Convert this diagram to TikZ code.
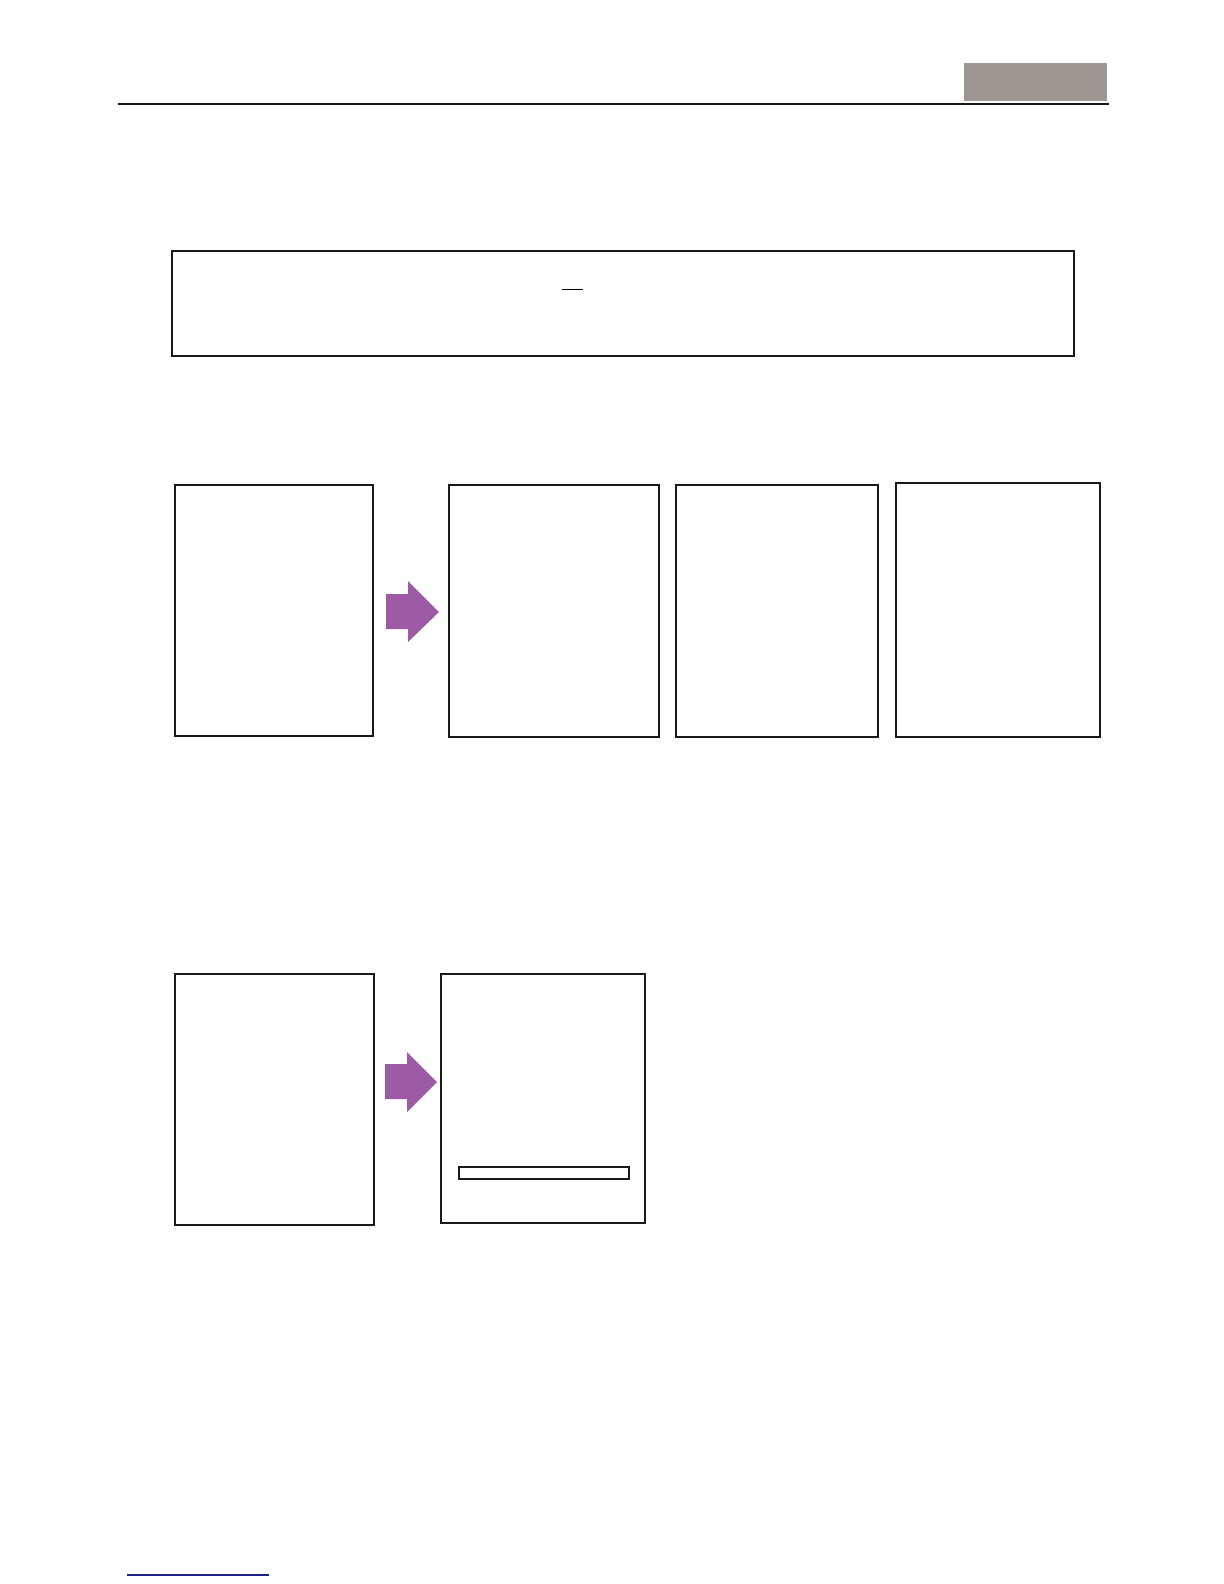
\documentclass[tikz,border=0pt]{standalone}
\definecolor{hdrgrey}{RGB}{158,151,147}
\definecolor{arrowpurple}{RGB}{157,91,166}
\definecolor{linkblue}{RGB}{30,30,140}
\tikzset{
  panel/.style={draw=black!90, line width=1pt, fill=white},
  thinpanel/.style={draw=black!90, line width=0.75pt, fill=white},
  bigarrow/.style={fill=arrowpurple, draw=none},
}
\begin{document}
\begin{tikzpicture}[x=0.5pt,y=-0.5pt]
\useasboundingbox (0,0) rectangle (1224,1584);
% header
\fill[hdrgrey] (964,63) rectangle (1107,101);
\draw[line width=1.1pt, black!90] (118,104) -- (1109,104);
% top wide box
\draw[panel] (172,251) rectangle (1074,356);
\draw[line width=0.5pt] (562,289) -- (583,289);
% row 1
\draw[panel] (175,485) rectangle (373,736);
\fill[bigarrow] (386,594) -- (408,594) -- (408,581) -- (439,612) -- (408,642) -- (408,629) -- (386,629) -- cycle;
\draw[thinpanel] (449,485) rectangle (659,737);
\draw[panel, line width=1.3pt] (676,485) rectangle (878,737);
\draw[panel] (896,483) rectangle (1100,737);
% row 2
\draw[panel] (175,974) rectangle (374,1225);
\fill[bigarrow] (385,1064) -- (407,1064) -- (407,1052) -- (437,1082) -- (407,1112) -- (407,1099) -- (385,1099) -- cycle;
\draw[thinpanel] (441,974) rectangle (645,1223);
\draw[thinpanel, line width=0.9pt] (459,1167) rectangle (629,1179);
% footer link line
\draw[line width=0.6pt, linkblue] (127,1575) -- (269,1575);
\end{tikzpicture}
\end{document}
